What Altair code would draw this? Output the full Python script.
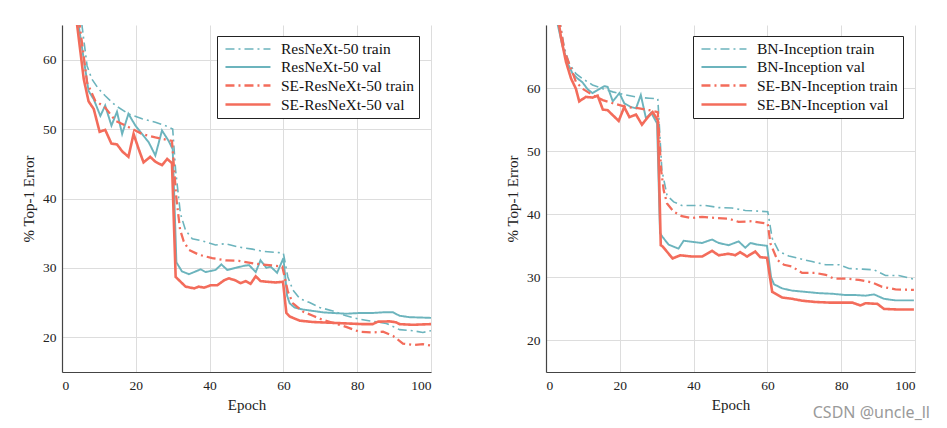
import altair as alt
import pandas as pd

# ---------------- Left panel: ResNeXt-50 ----------------
L_NAMES = ["ResNeXt-50 train", "ResNeXt-50 val", "SE-ResNeXt-50 train", "SE-ResNeXt-50 val"]

rx_train_ep = [2, 5.4, 6.8, 8.1, 9.9, 11.7, 14.5, 18, 21.7, 25.3, 28, 30, 30.8, 32.1, 33.5, 35.3, 38, 41.6, 44.3,
               47.9, 51.6, 54.3, 58.8, 60, 61.2, 62.6, 64.4, 67.1, 69.8, 73.4, 77, 80.6, 84.2, 87.9, 91.5, 95, 97.8, 100]
rx_train = [76, 65, 59.1, 57.2, 55.8, 54.8, 53.4, 52.2, 51.5, 51.0, 50.5, 50.0, 44, 37.8, 35.4, 34.2, 33.9, 33.3, 33.5,
            33.0, 32.7, 32.4, 32.2, 32.1, 28.7, 26.8, 25.6, 25.0, 24.3, 23.8, 23.1, 22.6, 22.3, 22.0, 21.1, 20.95, 20.7, 20.95]

rx_val_ep = [2, 4.5, 7.2, 8.6, 10.4, 11.7, 13.4, 14.9, 16.3, 18, 19.9, 21.7, 23.5, 25.3, 27.1, 28.9, 30, 31, 32.5,
             34.4, 35.8, 37.6, 38.9, 41.6, 43.2, 44.8, 47, 49.3, 50.7, 52.5, 53.8, 55.4, 56.5, 58.3, 60, 61, 61.7,
             63, 65.3, 68, 70.7, 73.4, 77, 80.6, 84.2, 87, 89.7, 91.5, 94.2, 100]
rx_val = [75, 65, 55.5, 54.3, 51.9, 53.4, 50.5, 52.5, 49.3, 52.2, 50.5, 49.3, 48.1, 46.2, 49.8, 48.3, 47.1, 30.8, 29.5,
          29.1, 29.4, 29.8, 29.4, 29.7, 30.5, 29.7, 30.0, 30.3, 30.4, 29.4, 31.1, 30.0, 30.2, 29.3, 31.4, 26.0, 24.9,
          24.3, 24.0, 23.8, 23.6, 23.5, 23.4, 23.5, 23.5, 23.6, 23.6, 23.1, 22.9, 22.8]

serx_train_ep = [2, 4.8, 6.8, 9, 11.7, 14.5, 18, 21.7, 25.3, 29.8, 31, 32, 33, 34.4, 37.1, 40.7, 44.3, 47.9, 52.5,
                 56.1, 59.7, 61.2, 62.6, 65.3, 68, 70.7, 73.4, 77, 80.6, 84.2, 87, 89.7, 92.4, 95, 97.8, 100]
serx_train = [74, 65, 56.7, 54.1, 53.1, 51.2, 50.3, 49.3, 48.8, 48.3, 40, 35.5, 33.8, 32.6, 31.9, 31.4, 31.1, 31.0, 30.6,
              30.4, 30.2, 26.6, 24.9, 23.7, 23.1, 22.5, 22.1, 21.5, 20.8, 20.7, 20.8, 20.2, 19.1, 18.9, 19.0, 18.8]

serx_val_ep = [2, 4.1, 5.9, 7.2, 8.6, 10.2, 11.7, 13.4, 14.9, 16.3, 18, 19.4, 20.8, 22.1, 23.9, 25.3, 27.1, 28.5, 29.8,
               30.8, 33.5, 35.8, 37.1, 38.5, 40.3, 42.1, 43.9, 45.2, 47, 48.4, 49.8, 51.1, 52.5, 53.8, 55.6, 57.9,
               59.9, 60.8, 61.7, 64.4, 68, 72.5, 77, 81.5, 84.2, 85.6, 88.8, 90.6, 91.5, 95, 100]
serx_val = [75, 65, 57.2, 54.0, 52.9, 49.6, 49.9, 47.9, 47.8, 46.8, 46.0, 49.3, 47.1, 45.2, 46.0, 45.3, 44.8, 45.7, 45.1,
            28.7, 27.3, 27.05, 27.3, 27.15, 27.5, 27.5, 28.2, 28.5, 28.2, 27.8, 28.1, 27.7, 28.8, 28.1, 28.0, 27.9,
            28.0, 23.5, 23.0, 22.4, 22.2, 22.1, 22.0, 21.9, 21.9, 22.25, 22.3, 22.15, 21.9, 21.8, 21.9]

# ---------------- Right panel: BN-Inception ----------------
R_NAMES = ["BN-Inception train", "BN-Inception val", "SE-BN-Inception train", "SE-BN-Inception val"]

bn_train_ep = [1, 5, 6.3, 8.1, 9.9, 12.6, 15.4, 18.1, 21.7, 25.3, 28, 30.3, 31.4, 32.8, 34.6, 36.8, 40, 43.2, 46.8,
               50.4, 54, 57.6, 60.1, 61.3, 63.1, 65.8, 68.5, 72.1, 75.8, 79.4, 82.1, 85.7, 88.9, 92, 95.6, 99.7]
bn_train = [80, 66.3, 63.9, 62.3, 61.5, 60.5, 59.9, 59.4, 58.9, 58.5, 58.4, 58.3, 47, 43.0, 41.96, 41.4, 41.4, 41.4, 41.06,
            41.0, 40.6, 40.5, 40.4, 36.2, 34.1, 33.4, 33.0, 32.5, 32.0, 32.0, 31.4, 31.3, 31.2, 30.3, 30.3, 29.7]

bn_val_ep = [1, 3.2, 4.5, 5.9, 7.2, 8.6, 9.9, 11.3, 12.6, 14, 15.8, 16.7, 18.1, 19.9, 21.2, 23, 24.4, 25.7, 27.1, 28.5,
             30.1, 30.9, 31.6, 33.2, 35.9, 37.3, 40, 42.3, 45, 46.8, 49.5, 52.2, 54, 55.4, 57.2, 59.9, 61, 61.8, 64,
             66.7, 70.3, 73.9, 77.6, 81.2, 83.9, 86.6, 88.9, 91.6, 94.7, 99.7]
bn_val = [80, 70, 66.6, 63.9, 62.3, 61.5, 60.9, 59.8, 59.2, 59.7, 60.3, 60.2, 57.9, 59.2, 57.6, 57.0, 56.8, 58.9, 55.2, 56.1,
          54.4, 37.0, 36.4, 35.2, 34.55, 35.8, 35.6, 35.45, 36.0, 35.45, 35.1, 35.7, 34.7, 35.45, 35.2, 35.0, 30, 28.9,
          28.25, 27.9, 27.7, 27.5, 27.4, 27.2, 27.2, 27.1, 27.3, 26.6, 26.35, 26.35]

sebn_train_ep = [1, 5, 6.8, 8.1, 9.9, 12.6, 15.4, 18.1, 21.7, 25.3, 28, 30.3, 31.2, 31.9, 32.8, 34.6, 36.8, 39.5, 42.3,
                 45.9, 49.5, 52.2, 55.8, 60.1, 60.8, 62.7, 64.5, 66.7, 69.4, 73, 75.8, 78, 81.2, 84.8, 88.4, 91.1,
                 94.7, 99.7]
sebn_train = [80, 65.8, 63.1, 61.0, 59.9, 58.9, 58.1, 57.6, 57.0, 56.8, 56.5, 56.2, 47, 43.8, 41.7, 40.4, 39.7, 39.4, 39.6,
              39.4, 39.3, 38.8, 38.9, 38.5, 35.4, 32.75, 32.0, 31.7, 30.7, 30.7, 30.4, 29.8, 29.8, 29.6, 29.2, 28.5,
              28.1, 28.0]

sebn_val_ep = [1, 4.1, 5.4, 6.8, 8.1, 9, 10.8, 12.6, 14, 15.4, 16.7, 18.1, 19.7, 21.2, 22.6, 24.4, 26, 27.6, 28.9, 30.3,
               31.1, 31.6, 34.3, 36.4, 39.5, 42.3, 45, 46.8, 49.5, 51.3, 52.6, 54.5, 56.7, 58.1, 59.9, 61.3, 64, 66.7,
               69.4, 73, 76.7, 80.3, 83, 85.2, 86.6, 89.8, 91.6, 95.6, 99.7]
sebn_val = [80, 67.9, 64.2, 61.5, 59.9, 57.9, 58.6, 58.5, 58.8, 56.6, 56.5, 55.7, 54.8, 57.0, 55.4, 55.8, 54.2, 55.4, 56.2,
            54.9, 35.1, 34.9, 33.0, 33.5, 33.3, 33.3, 34.2, 33.5, 33.75, 33.5, 34.0, 33.3, 34.1, 33.2, 33.1, 27.7, 26.8,
            26.6, 26.3, 26.1, 26.0, 26.0, 26.0, 25.55, 25.9, 25.8, 25.0, 24.9, 24.9]

X_TICKS = [0, 20, 40, 60, 80, 100]
Y_TICKS = [20, 30, 40, 50, 60]

TEAL = "#6cb4bd"
RED = "#f36c5b"
FONT = "Liberation Serif"


def make_df(series):
    rows = []
    for name, eps, vals in series:
        for e, v in zip(eps, vals):
            rows.append({"series": name, "epoch": e, "error": v})
    return pd.DataFrame(rows)


def make_legend(lx):
    return alt.Legend(
        title=None, orient="none", legendX=lx, legendY=11,
        fillColor="white", strokeColor="#222", padding=4.5, cornerRadius=0,
        labelFont=FONT, labelFontSize=15.5, labelColor="#111", labelLimit=300,
        symbolType="M-0.67,0L5.33,0", symbolSize=225, labelOffset=41.5, rowPadding=1,
    )


def axis(values, title):
    return alt.Axis(values=values, title=title, labelFont=FONT, titleFont=FONT, labelFontSize=13.5,
                    titleFontSize=15, titleFontWeight="normal", labelColor="#222", titleColor="#222",
                    domainColor="#444", domainWidth=1.2, gridColor="#dddddd", gridWidth=1,
                    ticks=False, labelPadding=6, titlePadding=6)


def panel(df, names, ymax, lx):
    leg = make_legend(lx)
    return alt.Chart(df).mark_line(clip=True).encode(
        x=alt.X("epoch:Q", scale=alt.Scale(domain=[0, 100], nice=False), axis=axis(X_TICKS, "Epoch")),
        y=alt.Y("error:Q", scale=alt.Scale(domain=[15, ymax], nice=False), axis=axis(Y_TICKS, "% Top-1 Error")),
        color=alt.Color("series:N", scale=alt.Scale(domain=names, range=[TEAL, TEAL, RED, RED]), legend=leg),
        strokeDash=alt.StrokeDash("series:N", scale=alt.Scale(domain=names,
                                  range=[[9, 4, 2, 4], [1, 0], [9, 4, 2, 4], [1, 0]]), legend=leg),
        strokeWidth=alt.StrokeWidth("series:N", scale=alt.Scale(domain=names, range=[1.6, 2.6, 1.6, 2.6]),
                                    legend=leg),
    ).properties(width=369, height=347)


left_df = make_df([
    (L_NAMES[0], rx_train_ep, rx_train),
    (L_NAMES[1], rx_val_ep, rx_val),
    (L_NAMES[2], serx_train_ep, serx_train),
    (L_NAMES[3], serx_val_ep, serx_val),
])
right_df = make_df([
    (R_NAMES[0], bn_train_ep, bn_train),
    (R_NAMES[1], bn_val_ep, bn_val),
    (R_NAMES[2], sebn_train_ep, sebn_train),
    (R_NAMES[3], sebn_val_ep, sebn_val),
])

left = panel(left_df, L_NAMES, 65, 155)
right = panel(right_df, R_NAMES, 70, 147)

chart = alt.hconcat(left, right, spacing=74).resolve_scale(
    color="independent", strokeDash="independent", strokeWidth="independent"
).resolve_legend(
    color="independent", strokeDash="independent", strokeWidth="independent"
).properties(
    padding={"left": 13, "top": 17, "right": 5, "bottom": 0},
    title=alt.TitleParams("CSDN @uncle_ll", orient="bottom", anchor="end", fontSize=16,
                          font="Noto Sans", fontWeight="normal", color="#9a9a9a", offset=-8, dx=15),
).configure_axis(
    labelFont=FONT, titleFont=FONT,
).configure_view(stroke=None)

chart.save("out.html", embed_options={"renderer": "svg", "actions": False})
